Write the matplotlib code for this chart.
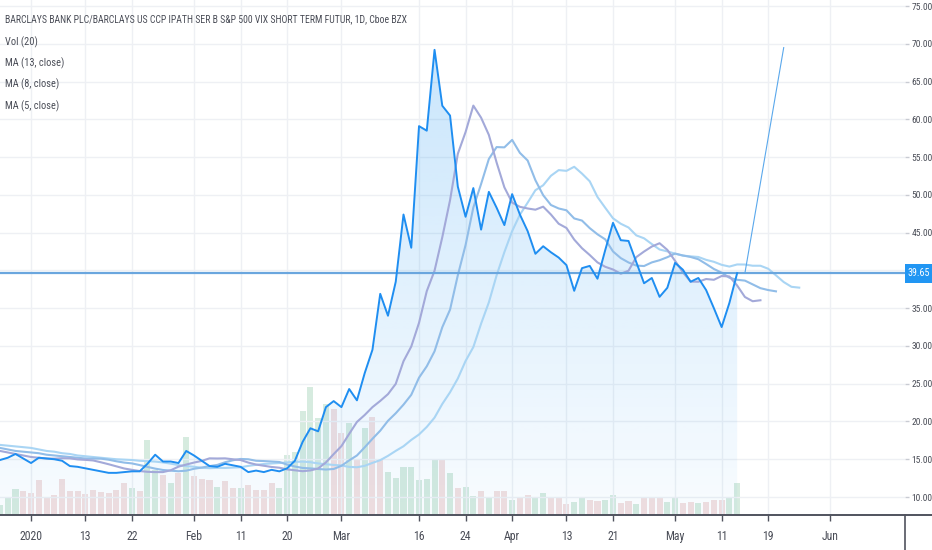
import numpy as np
import pandas as pd
import matplotlib
matplotlib.use("Agg")
from matplotlib import pyplot as plt
from matplotlib import font_manager
from matplotlib.font_manager import FontProperties
from matplotlib.patches import PathPatch, Rectangle
from matplotlib.lines import Line2D
import matplotlib.transforms as mtransforms

TITLE = "BARCLAYS BANK PLC/BARCLAYS US CCP IPATH SER B S&P 500 VIX SHORT TERM FUTUR, 1D, Cboe BZX"
LEGEND = ["Vol (20)", "MA (13, close)", "MA (8, close)", "MA (5, close)"]

HOLIDAYS = ["2020-01-01", "2020-01-20", "2020-02-17", "2020-04-10", "2020-05-25"]
START = "2019-12-26"

# daily close, one per trading day from START
close = [14.9, 15.2, 15.7, 15.1, 14.5, 15.2, 15.1, 15.0, 14.8, 14.1,
         14.0, 13.8, 13.6, 13.4, 13.2, 13.2, 13.3, 13.4, 13.4, 14.4,
         15.6, 14.7, 14.7, 14.5, 16.1, 15.5, 14.8, 14.1, 14.0, 14.4,
         14.2, 14.0, 13.3, 13.5, 13.3, 13.6, 13.4, 13.8, 14.8, 17.3,
         19.1, 18.7, 21.9, 22.7, 21.9, 24.3, 22.8, 26.4, 29.5, 36.9,
         34.0, 38.5, 47.4, 43.0, 59.1, 58.5, 69.2, 61.8, 60.5, 51.1,
         47.1, 50.9, 45.4, 50.4, 48.3, 46.0, 50.1, 47.4, 45.2, 42.2,
         43.2, 42.4, 41.7, 40.7, 37.3, 40.3, 40.6, 38.9, 42.7, 46.3,
         44.0, 43.9, 41.1, 38.3, 39.0, 36.5, 37.7, 41.0, 40.1, 38.5,
         39.0, 37.4, 35.0, 32.5, 35.7, 39.65]

# displaced moving averages as drawn (they run past the last bar)
ma5 = [16.1, 15.9, 15.7, 15.5, 15.3, 15.2, 15.1, 15.08, 15.14, 15.12,
       14.98, 14.92, 14.84, 14.60, 14.34, 14.06, 13.78, 13.60, 13.44, 13.34,
       13.30, 13.30, 13.54, 14.02, 14.30, 14.56, 14.78, 15.12, 15.10, 15.12,
       15.00, 14.90, 14.56, 14.30, 14.14, 13.98, 13.88, 13.66, 13.54, 13.42,
       13.52, 13.78, 14.58, 15.68, 16.74, 18.36, 19.94, 20.86, 21.90, 22.72,
       23.62, 24.98, 27.98, 29.92, 33.06, 37.26, 39.96, 44.40, 49.30, 55.44,
       58.32, 61.82, 60.22, 57.94, 54.28, 51.00, 48.98, 48.42, 48.20, 48.04,
       48.44, 47.40, 46.18, 45.62, 44.08, 42.94, 42.04, 41.06, 40.48, 40.12,
       39.56, 39.96, 41.76, 42.50, 43.16, 43.60, 42.72, 41.26, 39.76, 38.52,
       38.50, 38.86, 38.76, 39.26, 39.20, 38.00, 36.48, 35.92, 36.05]

ma8 = [16.5, 16.3, 16.1, 16.0, 15.9, 15.8, 15.6, 15.5, 15.4, 15.3,
       15.2, 15.1, 15.09, 15.08, 14.94, 14.73, 14.56, 14.45, 14.23, 13.99,
       13.76, 13.58, 13.49, 13.41, 13.49, 13.74, 13.90, 14.09, 14.25, 14.60,
       14.86, 15.04, 15.00, 14.80, 14.76, 14.70, 14.64, 14.29, 14.04, 13.85,
       13.79, 13.71, 13.64, 13.71, 14.13, 14.85, 15.50, 16.58, 17.71, 18.78,
       20.09, 21.09, 22.23, 23.53, 25.80, 27.31, 29.29, 32.48, 34.81, 39.35,
       43.36, 48.33, 51.44, 54.75, 56.33, 56.29, 57.28, 55.56, 54.55, 51.94,
       49.96, 48.66, 48.20, 47.96, 46.88, 46.60, 45.60, 44.78, 44.11, 42.51,
       41.63, 41.05, 40.64, 40.58, 41.06, 41.35, 41.75, 42.23, 41.98, 41.78,
       41.48, 40.85, 40.19, 39.70, 39.03, 38.76, 38.65, 38.15, 37.65, 37.40,
       37.23]

ma13 = [16.9, 16.8, 16.7, 16.6, 16.5, 16.3, 16.1, 16.0, 15.8, 15.7,
        15.5, 15.4, 15.3, 15.2, 15.1, 15.0, 14.95, 14.9, 14.8, 14.75,
        14.69, 14.58, 14.42, 14.23, 14.09, 14.01, 13.87, 13.82, 13.86, 13.85,
        13.90, 13.94, 14.12, 14.26, 14.37, 14.44, 14.50, 14.58, 14.65, 14.69,
        14.61, 14.45, 14.34, 14.25, 14.17, 13.99, 13.94, 14.13, 14.52, 14.88,
        15.45, 16.11, 16.72, 17.56, 18.28, 19.28, 20.51, 22.32, 23.87, 25.69,
        28.01, 29.85, 32.95, 35.77, 39.35, 42.42, 45.20, 47.38, 48.97, 50.62,
        51.27, 52.53, 53.28, 53.18, 53.72, 52.82, 51.80, 49.72, 48.29, 46.90,
        46.18, 45.68, 44.64, 44.25, 43.49, 42.77, 42.52, 42.22, 41.96, 41.86,
        41.78, 41.40, 41.14, 40.74, 40.51, 40.79, 40.78, 40.62, 40.62, 40.22,
        39.35, 38.46, 37.83, 37.72]

# volume (millions, rough) and whether the bar is an up day
volume = [10, 18, 26, 24, 22, 35, 18, 20, 36, 24,
          24, 21, 25, 23, 22, 25, 32, 27, 24, 75,
          45, 40, 32, 42, 78, 39, 36, 35, 28, 34,
          27, 27, 30, 25, 25, 32, 27, 60, 63, 104,
          128, 97, 111, 106, 82, 92, 55, 87, 98, 55,
          43, 37, 48, 48, 35, 36, 55, 55, 42, 27,
          28, 19, 24, 18, 24, 24, 15, 18, 20, 17,
          22, 17, 18, 11, 13, 17, 15, 14, 15, 20,
          12, 14, 11, 18, 17, 17, 13, 17, 12, 13,
          12, 13, 15, 15, 18, 32]
vol_up = [1, 1, 1, 0, 0, 0, 0, 0, 0, 0,
          0, 0, 0, 0, 0, 0, 0, 1, 0, 1,
          1, 0, 1, 0, 1, 0, 0, 0, 1, 0,
          0, 1, 0, 0, 0, 0, 1, 1, 1, 1,
          1, 1, 1, 0, 0, 1, 0, 1, 0, 0,
          1, 1, 1, 1, 1, 1, 1, 0, 1, 0,
          1, 1, 0, 1, 0, 0, 1, 0, 0, 1,
          1, 0, 0, 0, 1, 1, 0, 0, 1, 1,
          0, 0, 1, 0, 0, 0, 1, 1, 0, 0,
          1, 0, 0, 0, 1, 1]

last_price = 39.65
trend_dates = ["2020-05-14", "2020-05-21"]
trend_values = [39.65, 69.5]

tick_dates = ["2020-01-02", "2020-01-13", "2020-01-22", "2020-02-03", "2020-02-11",
              "2020-02-20", "2020-03-02", "2020-03-16", "2020-03-24", "2020-04-01",
              "2020-04-13", "2020-04-21", "2020-05-01", "2020-05-11", "2020-05-19",
              "2020-06-01"]
tick_labels = ["2020", "13", "22", "Feb", "11", "20", "Mar", "16", "24", "Apr",
               "13", "21", "May", "11", "19", "Jun"]
price_ticks = [10, 15, 20, 25, 30, 35, 40, 45, 50, 55, 60, 65, 70, 75]


def pick_narrow_font():
    # the screenshot text is very condensed, look for a narrow face
    prefs = ["liberation sans narrow", "roboto condensed", "open sans condensed",
             "dejavu sans condensed", "noto sans condensed"]
    found = []
    for f in font_manager.fontManager.ttflist:
        fn = f.fname.lower().replace("-", " ").replace("_", " ")
        label = (f.name + " " + fn).lower()
        narrow = ("narrow" in label or "condensed" in label
                  or f.stretch in ("condensed", "semi-condensed", "extra-condensed"))
        if not narrow or f.style != "normal":
            continue
        if f.weight not in (400, "normal", "regular"):
            continue
        if "semicondensed" in fn.replace(" ", "") or "extracondensed" in fn.replace(" ", ""):
            continue
        rank = len(prefs)
        for k, p in enumerate(prefs):
            if p.split()[0] in label and (p.split()[-1] in label):
                rank = k
                break
        found.append((rank, f.fname))
    if found:
        found.sort()
        return found[0][1]
    return None


narrow_file = pick_narrow_font()


def fp(size):
    if narrow_file:
        return FontProperties(fname=narrow_file, size=size)
    return FontProperties(family="DejaVu Sans", stretch="condensed", size=size)


TEXT = "#4a4d57"
GRID = "#eef0f4"
BLUE = "#2196f3"

days = pd.bdate_range(START, "2020-06-19", freq="C", holidays=HOLIDAYS)
pos = {d.strftime("%Y-%m-%d"): i for i, d in enumerate(days)}


def xs(n):
    return np.arange(n)


fig = plt.figure(figsize=(9.32, 5.5), dpi=100)
rect = [0.0, 35 / 550, 905 / 932, 515 / 550]
ax = fig.add_axes(rect)
axv = ax.twinx()
ax.set_zorder(axv.get_zorder() + 1)
ax.patch.set_visible(False)

# volume pane
colors = ["#d6ebdf" if u else "#f3dfdf" for u in vol_up]
axv.bar(xs(len(volume)), volume, width=0.78, color=colors, zorder=1)
axv.set_ylim(0, max(volume) / 0.2485)
axv.set_yticks([])
for s in axv.spines.values():
    s.set_visible(False)

# grid
for t in tick_dates:
    ax.axvline(pos[t], color=GRID, lw=1, zorder=0)
for p in price_ticks:
    ax.axhline(p, color=GRID, lw=1, zorder=0)

ymin, ymax = 7.62, 75.8
xmin, xmax = 0.0, 116.63

# gradient area under close
xc = xs(len(close))
area = ax.fill_between(xc, close, ymin, facecolor="none", edgecolor="none")
clip = PathPatch(area.get_paths()[0], transform=ax.transData,
                 facecolor="none", edgecolor="none")
ax.add_patch(clip)
g = np.linspace(0, 1, 256).reshape(-1, 1)
rgba = np.zeros((256, 1, 4))
rgba[..., 0] = 33 / 255
rgba[..., 1] = 150 / 255
rgba[..., 2] = 243 / 255
rgba[..., 3] = 0.03 + 0.21 * g
im = ax.imshow(rgba, extent=[0, len(close) - 1, ymin, max(close)], origin="lower",
               aspect="auto", interpolation="bilinear", zorder=1)
im.set_clip_path(clip)

# moving averages
ax.plot(xs(len(ma13)), ma13, color="#a9d5f4", lw=1.5, zorder=2)
ax.plot(xs(len(ma8)), ma8, color="#91bde8", lw=1.5, zorder=2)
ax.plot(xs(len(ma5)), ma5, color="#a3a9d9", lw=1.5, zorder=2)

ax.plot(xc, close, color="#1f8ef1", lw=1.4, zorder=3)

ax.axhline(last_price, color="#6aa6de", lw=1.6, zorder=2)
ax.plot([pos[d] for d in trend_dates], trend_values, color="#5aa8ec", lw=0.8, zorder=3)

ax.set_xlim(xmin, xmax)
ax.set_ylim(ymin, ymax)

ax.set_xticks([pos[t] for t in tick_dates])
ax.set_xticklabels(tick_labels)
ax.tick_params(axis="x", length=4, width=1, color="#50535e",
               labelcolor=TEXT, pad=7)
for lab in ax.get_xticklabels():
    lab.set_fontproperties(fp(8.5))

ax.yaxis.tick_right()
ax.set_yticks(price_ticks)
ax.set_yticklabels(["" if p == 40 else "%.2f" % p for p in price_ticks])
ax.tick_params(axis="y", length=3, width=1, color="#c8cbd2",
               labelcolor=TEXT, pad=1.5)
for lab in ax.get_yticklabels():
    lab.set_fontproperties(fp(6.8))

for name in ["top", "left", "right"]:
    ax.spines[name].set_visible(False)
ax.spines["bottom"].set_color("#50535e")
ax.spines["bottom"].set_linewidth(1.4)

# last price tag on the price scale
tr = mtransforms.blended_transform_factory(ax.transAxes, ax.transData)
half = 9.5 / (515 / (ymax - ymin))
ax.add_patch(Rectangle((1.0, last_price - half), 27 / 905, 2 * half, transform=tr,
                       facecolor=BLUE, edgecolor="none", clip_on=False, zorder=5))
ax.text(1.0 + 14 / 905, last_price, "39.65", transform=tr, ha="center", va="center",
        color="white", fontproperties=fp(7.2), zorder=6, clip_on=False)

fig.add_artist(Line2D([905 / 932, 905 / 932], [0, 35 / 550], color="#50535e", lw=1.2))
fig.add_artist(Line2D([905 / 932, 1], [35 / 550, 35 / 550], color="#50535e", lw=1.4))

fig.text(5 / 932, 1 - 19 / 550, TITLE, fontproperties=fp(7), color=TEXT, va="center")
for i, lab in enumerate(LEGEND):
    fig.text(5 / 932, 1 - (42 + 21.3 * i) / 550, lab, fontproperties=fp(7.5),
             color=TEXT, va="center")

fig.savefig("out.png", dpi=100)
